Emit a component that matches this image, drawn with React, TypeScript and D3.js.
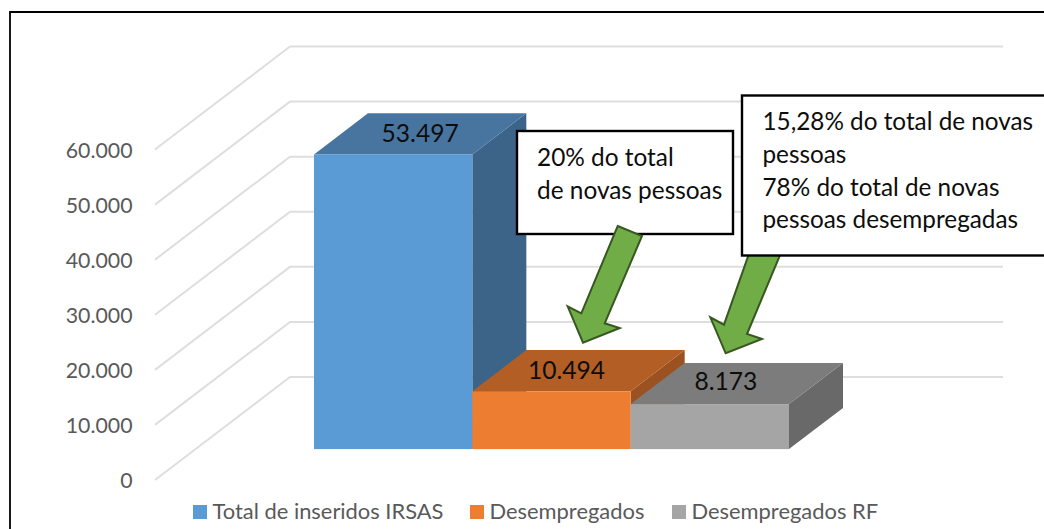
import React from "react";
import * as d3 from "d3";

const categories = ["Total de inseridos IRSAS", "Desempregados", "Desempregados RF"];
const values = [53497, 10494, 8173];
const yTicks = [0, 10000, 20000, 30000, 40000, 50000, 60000];
const faceColors = ["#5B9BD5", "#ED7D31", "#A5A5A5"];
const topColors = ["#4775A0", "#B25E24", "#7C7C7C"];
const sideColors = ["#3C6488", "#9C5220", "#696969"];
const callout1Lines = ["20% do total", "de novas pessoas"];
const callout2Lines = [
  "15,28% do total de novas",
  "pessoas",
  "78% do total de novas",
  "pessoas desempregadas",
];

const FONT = "Lato, Carlito, Calibri, sans-serif";
const W = 1044;
const H = 529;

const locale = d3.formatLocale({
  decimal: ",",
  thousands: ".",
  grouping: [3],
  currency: ["", ""],
});
const fmt = locale.format(",d");

const y = d3.scaleLinear().domain([0, 60000]).range([480, 149.5]);
const x = d3.scaleBand<string>().domain(categories).range([314, 789]).paddingInner(0).paddingOuter(0);

// floor projection of the 3D box
const floorDx = 135;
const floorDy = -103;
const floorEndX = 1003;
const barZ0 = 0.3; // front of bars along the depth axis
const barDepth = 0.4;

const poly = (pts: [number, number][]) => d3.line()(pts) + "Z";

const labelNudge = [27, 15, 16];
const labelLift = [8.5, 8.5, 7];

export default function App() {
  const baseY = y(0) + floorDy * barZ0;
  const ddx = floorDx * barDepth;
  const ddy = floorDy * barDepth;
  const bw = x.bandwidth();

  return (
    <svg
      width={W}
      height={H}
      viewBox={`0 0 ${W} ${H}`}
      style={{ position: "absolute", left: 0, top: 0, background: "#fff", fontFamily: FONT }}
    >
      {/* gridlines */}
      <g fill="none" stroke="#DEDEDE" strokeWidth={2}>
        {yTicks.map((t) => (
          <path
            key={t}
            d={d3.line()([
              [155, y(t)],
              [155 + floorDx, y(t) + floorDy],
              [floorEndX, y(t) + floorDy],
            ]) as string}
          />
        ))}
      </g>

      {/* y-axis labels */}
      <g fill="#595959" fontSize={21.3} textAnchor="end">
        {yTicks.map((t) => (
          <text key={t} x={132.5} y={y(t) + 8}>
            {fmt(t)}
          </text>
        ))}
      </g>

      {/* bars */}
      {categories.map((c, i) => {
        const x0 = x(c) as number;
        const x1 = x0 + bw;
        const h = y(0) - y(values[i]);
        const top = baseY - h;
        return (
          <g key={c}>
            <path
              fill={sideColors[i]}
              d={poly([
                [x1, top],
                [x1 + ddx, top + ddy],
                [x1 + ddx, baseY + ddy],
                [x1, baseY],
              ])}
            />
            <path
              fill={topColors[i]}
              d={poly([
                [x0, top],
                [x0 + ddx, top + ddy],
                [x1 + ddx, top + ddy],
                [x1, top],
              ])}
            />
            <rect x={x0} y={top} width={bw} height={h} fill={faceColors[i]} />
          </g>
        );
      })}

      {/* value labels */}
      <g fill="#0D0D0D" fontSize={24.6} textAnchor="middle">
        {categories.map((c, i) => {
          const h = y(0) - y(values[i]);
          const top = baseY - h;
          return (
            <text key={c} x={(x(c) as number) + bw / 2 + labelNudge[i]} y={top + ddy / 2 + labelLift[i]}>
              {fmt(values[i])}
            </text>
          );
        })}
      </g>

      {/* callout 1 */}
      <rect x={517} y={131} width={216} height={103} fill="#fff" stroke="#000" strokeWidth={2.4} />
      <g fill="#0D0D0D" fontSize={24.4}>
        {callout1Lines.map((l, i) => (
          <text key={l} x={537} y={165.7 + i * 33.3}>
            {l}
          </text>
        ))}
      </g>

      {/* arrows */}
      <path
        fill="#70AD47"
        stroke="#385723"
        strokeWidth={2}
        d={poly([
          [617.7, 226],
          [642, 236],
          [604.7, 323.3],
          [619.7, 328],
          [583, 342.7],
          [567.7, 306.3],
          [581.3, 313.3],
        ])}
      />
      <path
        fill="#70AD47"
        stroke="#385723"
        strokeWidth={2}
        d={poly([
          [751, 248],
          [783, 248],
          [747, 334],
          [762, 339],
          [725.7, 353.3],
          [710.3, 317.3],
          [724, 324.7],
        ])}
      />

      {/* callout 2 */}
      <rect x={742} y={95.5} width={320} height={160} fill="#fff" stroke="#000" strokeWidth={2.4} />
      <g fill="#0D0D0D" fontSize={24.3}>
        {callout2Lines.map((l, i) => (
          <text key={l} x={762.5} y={130 + i * 32.8}>
            {l}
          </text>
        ))}
      </g>

      {/* legend */}
      <g fontSize={21.9} fill="#595959">
        {categories.map((c, i) => {
          const lx = [193, 470, 672][i];
          return (
            <g key={c}>
              <rect x={lx} y={505} width={14} height={14} fill={faceColors[i]} />
              <text x={lx + 19.5} y={519}>
                {c}
              </text>
            </g>
          );
        })}
      </g>

      {/* frame */}
      <path d={`M${W},12 H10 V${H}`} fill="none" stroke="#000" strokeWidth={1.8} />
    </svg>
  );
}
